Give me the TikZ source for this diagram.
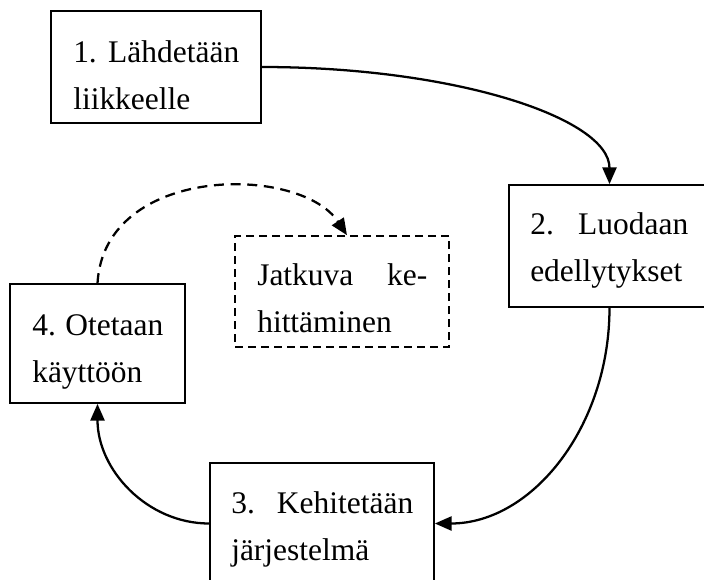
\documentclass[tikz,border=0pt]{standalone}
\usepackage{fontspec}
\setmainfont{Liberation Serif}
\usetikzlibrary{arrows.meta,calc}
\newdimen\pxu \pxu=0.75pt
\tikzset{
  box/.style={draw=black, line width=1.3pt, fill=white, rectangle, inner sep=0pt},
  dbox/.style={box, line width=1.2pt, dash pattern=on 6pt off 3.75pt},
  lbl/.style={inner sep=0pt, anchor=base west, font=\fontsize{23.6pt}{35pt}\selectfont},
  conn/.style={line width=1.7pt, -{Triangle[length=12.5pt,width=10.5pt]}},
  dconn/.style={conn, dash pattern=on 7.5pt off 5pt},
}
\newcommand\twolines[3]{\vtop{\baselineskip=47\pxu\hbox to #1\pxu{#2}\hbox{#3}}}
\begin{document}
\begin{tikzpicture}[x=0.75pt,y=-0.75pt]
\clip (0,0) rectangle (704,579);
% boxes
\node[box, minimum width=210\pxu, minimum height=112\pxu] (b1) at (156,67) {};
\node[box, minimum width=201\pxu, minimum height=122\pxu] (b2) at (609.5,246) {};
\node[box, minimum width=224\pxu, minimum height=121\pxu] (b3) at (322,523.5) {};
\node[box, minimum width=175\pxu, minimum height=119\pxu] (b4) at (97.5,343.5) {};
\node[dbox, minimum width=214\pxu, minimum height=111\pxu] (b5) at (342,291.5) {};
% texts
\node[lbl] (t1) at (73,62) {\twolines{166}{1.\hfill Lähdetään}{liikkeelle}};
\node[lbl] (t2) at (530,234) {\twolines{158}{2.\hfill Luodaan}{edellytykset}};
\node[lbl] (t3) at (231,513) {\twolines{182}{3.\hfill Kehitetään}{järjestelmä}};
\node[lbl] (t4) at (32,335) {\twolines{131}{4.\hfill Otetaan}{käyttöön}};
\node[lbl] (t5) at (257,285) {\twolines{170}{Jatkuva\hfill ke-}{hittäminen}};
% connectors
\draw[conn] (b1.east) .. controls +(193,0) and +(0,-66) .. (b2.north);
\draw[conn] (b2.south) .. controls +(0,119) and +(97,0) .. (b3.east);
\draw[conn] (b3.west) .. controls +(-62,0) and +(0,66) .. (b4.south);
\draw[dconn] (b4.north) .. controls +(7,-119) and +(-47,-71) .. ($(b5.north)+(5,0)$);
\end{tikzpicture}
\end{document}
